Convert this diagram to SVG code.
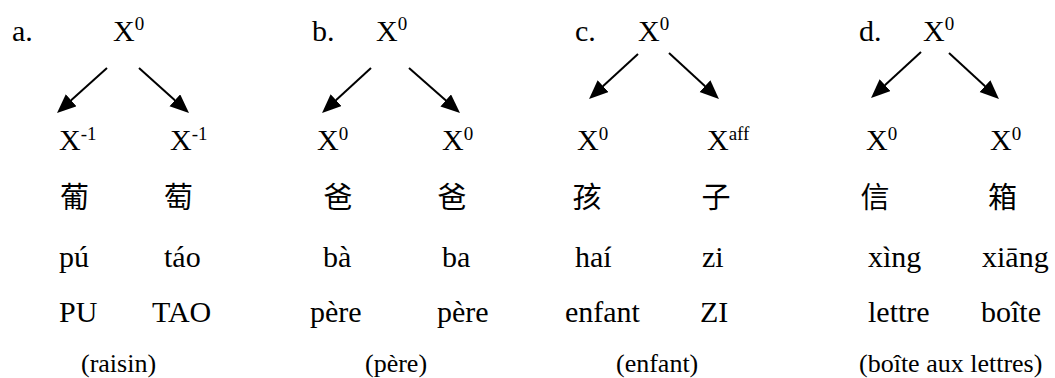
<svg xmlns="http://www.w3.org/2000/svg" width="1055" height="378" viewBox="0 0 1055 378">
<style>
text{font-family:"Liberation Serif","Times New Roman","DejaVu Serif",serif;font-size:30px;fill:#000}
.sup{font-size:19px}
.cjk{font-family:"Noto Sans CJK SC","Noto Sans CJK TC",sans-serif;font-size:29px;text-anchor:middle}
.par{font-size:26px}
.arr{stroke:#000;stroke-width:2;fill:none;marker-end:url(#ah)}
</style>
<defs>
<marker id="ah" markerUnits="userSpaceOnUse" markerWidth="22" markerHeight="18" refX="15" refY="8" orient="auto" viewBox="0 0 22 18">
<path d="M0,0 L19,8 L0,16 z" fill="#000"/>
</marker>
</defs>
<rect width="1055" height="378" fill="#fff"/>

<g id="connectors">
<line class="arr" x1="107" y1="68" x2="60" y2="110.3"/>
<line class="arr" x1="139" y1="68" x2="186" y2="110.3"/>
<line class="arr" x1="371" y1="68" x2="325" y2="110.3"/>
<line class="arr" x1="409" y1="68" x2="457" y2="110.3"/>
<line class="arr" x1="638" y1="54" x2="592" y2="96.3"/>
<line class="arr" x1="669" y1="53" x2="716" y2="96.3"/>
<line class="arr" x1="921" y1="52" x2="874" y2="95.3"/>
<line class="arr" x1="949" y1="53" x2="996" y2="96.3"/>
</g>

<!-- a -->
<g id="a-root">
<text x="12" y="41">a.</text>
<text x="113" y="41">X<tspan class="sup" dy="-11">0</tspan></text>
</g>
<g id="a-left">
<text x="59" y="150">X<tspan class="sup" dy="-10">-1</tspan></text>
<text class="cjk" x="74.5" y="208">葡</text>
<text x="59" y="267">pú</text>
<text x="59" y="322">PU</text>
</g>
<g id="a-right">
<text x="170" y="150">X<tspan class="sup" dy="-10">-1</tspan></text>
<text class="cjk" x="178.5" y="208">萄</text>
<text x="164" y="267">táo</text>
<text x="152" y="322">TAO</text>
</g>
<g id="a-gloss"><text class="par" x="81" y="372">(raisin)</text></g>

<!-- b -->
<g id="b-root">
<text x="312" y="41">b.</text>
<text x="376" y="41">X<tspan class="sup" dy="-11">0</tspan></text>
</g>
<g id="b-left">
<text x="317" y="150">X<tspan class="sup" dy="-10">0</tspan></text>
<text class="cjk" x="338" y="208">爸</text>
<text x="323" y="267">bà</text>
<text x="310" y="322">père</text>
</g>
<g id="b-right">
<text x="442" y="150">X<tspan class="sup" dy="-10">0</tspan></text>
<text class="cjk" x="452" y="208">爸</text>
<text x="442" y="267">ba</text>
<text x="437" y="322">père</text>
</g>
<g id="b-gloss"><text class="par" x="365" y="372">(père)</text></g>

<!-- c -->
<g id="c-root">
<text x="575" y="41">c.</text>
<text x="638" y="41">X<tspan class="sup" dy="-11">0</tspan></text>
</g>
<g id="c-left">
<text x="577" y="150">X<tspan class="sup" dy="-10">0</tspan></text>
<text class="cjk" x="587" y="208">孩</text>
<text x="575" y="267">haí</text>
<text x="565" y="322">enfant</text>
</g>
<g id="c-right">
<text x="707" y="150">X<tspan class="sup" dy="-10">aff</tspan></text>
<text class="cjk" x="716" y="208">子</text>
<text x="702" y="267">zi</text>
<text x="700" y="322">ZI</text>
</g>
<g id="c-gloss"><text class="par" x="616" y="372">(enfant)</text></g>

<!-- d -->
<g id="d-root">
<text x="859" y="41">d.</text>
<text x="923" y="41">X<tspan class="sup" dy="-11">0</tspan></text>
</g>
<g id="d-left">
<text x="866" y="150">X<tspan class="sup" dy="-10">0</tspan></text>
<text class="cjk" x="875" y="208">信</text>
<text x="868" y="267">xìng</text>
<text x="868" y="322">lettre</text>
</g>
<g id="d-right">
<text x="990" y="150">X<tspan class="sup" dy="-10">0</tspan></text>
<text class="cjk" x="1002.5" y="208">箱</text>
<text x="982" y="267">xiāng</text>
<text x="981" y="322">boîte</text>
</g>
<g id="d-gloss"><text class="par" x="859" y="372">(boîte aux lettres)</text></g>
</svg>
